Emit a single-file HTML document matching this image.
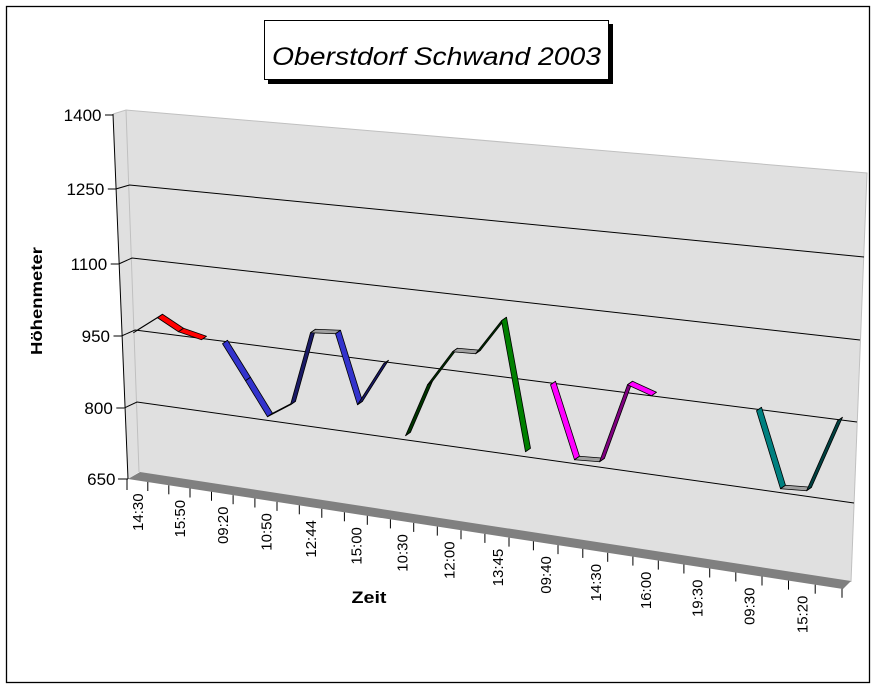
<!DOCTYPE html>
<html>
<head>
<meta charset="utf-8">
<style>
html,body{margin:0;padding:0;background:#fff;}
svg{display:block;}
text{font-family:"Liberation Sans",Arial,sans-serif;fill:#000;}
</style>
</head>
<body>
<svg width="876" height="688" viewBox="0 0 876 688" xmlns="http://www.w3.org/2000/svg">
<rect x="0" y="0" width="876" height="688" fill="#fff"/>
<!-- outer border -->
<rect x="6.5" y="6.5" width="863" height="676" fill="none" stroke="#000" stroke-width="1.3"/>

<!-- title box -->
<rect x="268" y="24" width="345" height="60" fill="#000"/>
<rect x="264.5" y="20.5" width="344" height="59" fill="#fff" stroke="#000" stroke-width="1"/>
<text x="436.5" y="65" font-size="25" font-style="italic" text-anchor="middle" textLength="329" lengthAdjust="spacingAndGlyphs">Oberstdorf Schwand 2003</text>

<!-- walls -->
<polygon points="113,114 126,110 139,472 128,479" fill="#e0e0e0"/>
<polygon points="126,110 867,173 851,582 139,472" fill="#e0e0e0"/>
<polyline points="113,114 126,110 867,173 851,582" fill="none" stroke="#c0c0c0" stroke-width="1"/>
<line x1="126" y1="110" x2="139" y2="472" stroke="#c0c0c0" stroke-width="1"/>

<!-- floor -->
<polygon points="128,479 140,472 851,581 843,589" fill="#808080"/>

<!-- gridlines -->
<g fill="none" stroke="#000" stroke-width="1">
<polyline points="115.8,189 129.5,185 864,257"/>
<polyline points="118.7,264 132,258 860,340"/>
<polyline points="121.5,336 135,330 857,422"/>
<polyline points="124.3,408 137,402 854,503"/>
</g>

<!-- y axis -->
<g stroke="#000" stroke-width="1">
<line x1="113" y1="114" x2="128" y2="479"/>
<line x1="105" y1="115" x2="113" y2="115"/>
<line x1="107.8" y1="189" x2="115.8" y2="189"/>
<line x1="110.7" y1="264" x2="118.7" y2="264"/>
<line x1="113.5" y1="336" x2="121.5" y2="336"/>
<line x1="116.3" y1="408" x2="124.3" y2="408"/>
<line x1="118" y1="479" x2="128" y2="479"/>
</g>
<g font-size="17" text-anchor="end">
<text x="101.5" y="121">1400</text>
<text x="104.3" y="195">1250</text>
<text x="107.2" y="270">1100</text>
<text x="110" y="342">950</text>
<text x="112.8" y="414">800</text>
<text x="115.5" y="485">650</text>
</g>
<text transform="translate(42,301) rotate(-90)" font-size="16" font-weight="bold" text-anchor="middle" textLength="108" lengthAdjust="spacingAndGlyphs">Höhenmeter</text>

<!-- x axis ticks -->
<g stroke="#000" stroke-width="1">
<line x1="127" y1="478.8" x2="127" y2="490"/>
<line x1="147.8" y1="482.0" x2="147.8" y2="491.0"/>
<line x1="168.8" y1="485.3" x2="168.8" y2="494.3"/>
<line x1="190.0" y1="488.5" x2="190.0" y2="497.5"/>
<line x1="211.5" y1="491.8" x2="211.5" y2="500.8"/>
<line x1="233.1" y1="495.2" x2="233.1" y2="504.2"/>
<line x1="254.9" y1="498.5" x2="254.9" y2="507.5"/>
<line x1="277.0" y1="501.9" x2="277.0" y2="510.9"/>
<line x1="299.3" y1="505.3" x2="299.3" y2="514.3"/>
<line x1="321.8" y1="508.8" x2="321.8" y2="517.8"/>
<line x1="344.4" y1="512.3" x2="344.4" y2="521.3"/>
<line x1="367.3" y1="515.8" x2="367.3" y2="524.8"/>
<line x1="390.4" y1="519.4" x2="390.4" y2="528.4"/>
<line x1="413.7" y1="522.9" x2="413.7" y2="531.9"/>
<line x1="437.3" y1="526.6" x2="437.3" y2="535.6"/>
<line x1="461.0" y1="530.2" x2="461.0" y2="539.2"/>
<line x1="484.9" y1="533.9" x2="484.9" y2="542.9"/>
<line x1="509.0" y1="537.6" x2="509.0" y2="546.6"/>
<line x1="533.4" y1="541.3" x2="533.4" y2="550.3"/>
<line x1="558.0" y1="545.1" x2="558.0" y2="554.1"/>
<line x1="582.8" y1="548.9" x2="582.8" y2="557.9"/>
<line x1="607.7" y1="552.8" x2="607.7" y2="561.8"/>
<line x1="632.9" y1="556.6" x2="632.9" y2="565.6"/>
<line x1="658.3" y1="560.6" x2="658.3" y2="569.6"/>
<line x1="683.9" y1="564.5" x2="683.9" y2="573.5"/>
<line x1="709.7" y1="568.5" x2="709.7" y2="577.5"/>
<line x1="735.8" y1="572.5" x2="735.8" y2="581.5"/>
<line x1="762.0" y1="576.5" x2="762.0" y2="585.5"/>
<line x1="788.5" y1="580.6" x2="788.5" y2="589.6"/>
<line x1="815.2" y1="584.7" x2="815.2" y2="593.7"/>
<line x1="842" y1="588.8" x2="842" y2="597.8"/>
</g>

<!-- x labels -->
<g font-size="15" text-anchor="end">
<text transform="translate(142.9,493.4) rotate(-90)">14:30</text>
<text transform="translate(184.9,499.9) rotate(-90)">15:50</text>
<text transform="translate(227.8,506.5) rotate(-90)">09:20</text>
<text transform="translate(271.5,513.2) rotate(-90)">10:50</text>
<text transform="translate(316.1,520.1) rotate(-90)">12:44</text>
<text transform="translate(361.4,527.1) rotate(-90)">15:00</text>
<text transform="translate(407.6,534.2) rotate(-90)">10:30</text>
<text transform="translate(454.7,541.4) rotate(-90)">12:00</text>
<text transform="translate(503.0,548.8) rotate(-90)">13:45</text>
<text transform="translate(551.2,556.2) rotate(-90)">09:40</text>
<text transform="translate(600.8,563.9) rotate(-90)">14:30</text>
<text transform="translate(651.1,571.6) rotate(-90)">16:00</text>
<text transform="translate(702.3,579.5) rotate(-90)">19:30</text>
<text transform="translate(754.4,587.5) rotate(-90)">09:30</text>
<text transform="translate(807.3,595.6) rotate(-90)">15:20</text>
</g>
<text x="369" y="603" font-size="17" font-weight="bold" text-anchor="middle" textLength="35" lengthAdjust="spacingAndGlyphs">Zeit</text>

<!-- data ribbons -->
<g stroke="#000" stroke-width="0.8" stroke-linejoin="round">
<!-- red -->
<polygon points="133.5,332.75 157.5,317.75 162.5,314.25 138.5,329.25" fill="#800000"/>
<polygon points="157.5,317.75 178.5,331.75 183.5,328.25 162.5,314.25" fill="#ff0000"/>
<polygon points="178.5,331.75 201.5,339.75 206.5,336.25 183.5,328.25" fill="#ff0000"/>
<!-- blue -->
<polygon points="222.5,343.75 245.5,380.75 250.5,377.25 227.5,340.25" fill="#3333cc"/>
<polygon points="245.5,380.75 267.5,416.75 272.5,413.25 250.5,377.25" fill="#3333cc"/>
<polygon points="267.5,416.75 290.5,404.75 295.5,401.25 272.5,413.25" fill="#1a1a66"/>
<polygon points="290.5,404.75 310.5,332.75 315.5,329.25 295.5,401.25" fill="#1a1a66"/>
<polygon points="310.5,332.75 335.5,333.75 340.5,330.25 315.5,329.25" fill="#a0a0a0"/>
<polygon points="335.5,333.75 357.5,404.75 362.5,401.25 340.5,330.25" fill="#3333cc"/>
<polygon points="357.5,404.75 383.5,363.75 388.5,360.25 362.5,401.25" fill="#1a1a66"/>
<!-- green -->
<polygon points="405.5,435.75 427.5,384.75 432.5,381.25 410.5,432.25" fill="#003300"/>
<polygon points="427.5,384.75 452.5,351.75 457.5,348.25 432.5,381.25" fill="#003300"/>
<polygon points="452.5,351.75 475.5,353.75 480.5,350.25 457.5,348.25" fill="#a0a0a0"/>
<polygon points="475.5,353.75 501.5,320.75 506.5,317.25 480.5,350.25" fill="#003300"/>
<polygon points="501.5,320.75 525.5,451.75 530.5,448.25 506.5,317.25" fill="#008000"/>
<!-- magenta -->
<polygon points="550.5,384.75 574.5,459.75 579.5,456.25 555.5,381.25" fill="#ff00ff"/>
<polygon points="574.5,459.75 599.5,461.75 604.5,458.25 579.5,456.25" fill="#a0a0a0"/>
<polygon points="599.5,461.75 627.5,384.75 632.5,381.25 604.5,458.25" fill="#800080"/>
<polygon points="627.5,384.75 651.5,395.75 656.5,392.25 632.5,381.25" fill="#ff00ff"/>
<!-- teal -->
<polygon points="756.5,410.75 780.5,488.75 785.5,485.25 761.5,407.25" fill="#008080"/>
<polygon points="780.5,488.75 806.5,490.75 811.5,487.25 785.5,485.25" fill="#a0a0a0"/>
<polygon points="806.5,490.75 837.5,420.75 842.5,417.25 811.5,487.25" fill="#004040"/>
</g>
</svg>
</body>
</html>
